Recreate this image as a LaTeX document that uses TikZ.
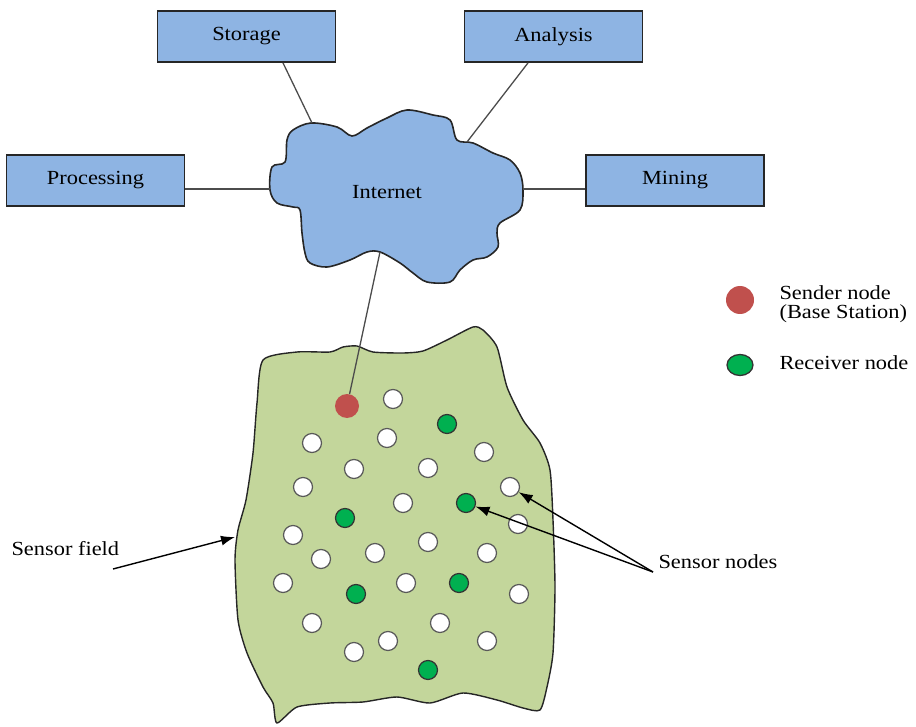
\documentclass[tikz,border=0pt]{standalone}
\usepackage{fontspec}
\setmainfont[FakeStretch=1.12]{Liberation Serif}
\usetikzlibrary{arrows.meta,shapes.geometric}
\definecolor{boxblue}{HTML}{8EB4E3}
\definecolor{fieldgreen}{HTML}{C3D69B}
\definecolor{rxgreen}{HTML}{00B050}
\definecolor{txred}{HTML}{C0504D}
\begin{document}
\begin{tikzpicture}[x=1pt,y=-1pt,
  lbl/.style={font=\fontsize{20}{18.5}\selectfont, text=black},
  block/.style={lbl, draw=black!85, line width=1.8pt, fill=boxblue,
    minimum width=178pt, minimum height=51pt, inner sep=0pt},
  link/.style={draw=black!70, line width=1.3pt},
  pointer/.style={draw=black, line width=1.4pt, -{Latex[length=14pt,width=10pt]}},
  dot/.style={circle, line width=1.2pt, minimum size=19pt, inner sep=0pt},
  sensor/.style={dot, draw=black!65, fill=white},
  rx/.style={dot, draw=black!80, fill=rxgreen},
  tx/.style={circle, fill=txred, minimum size=24pt, inner sep=0pt},
]
\useasboundingbox (0,0) rectangle (916,727);

% service boxes
\node[block] (storage)    at (246.5,36.5) {Storage};
\node[block] (analysis)   at (553.5,36.5) {Analysis};
\node[block] (processing) at (95.5,180.5) {Processing};
\node[block] (mining)     at (675,180.5)  {Mining};

% internet cloud
\draw[draw=black!85, line width=1.6pt, fill=boxblue]
  plot[smooth cycle, tension=0.55] coordinates {
   (311,123) (337,127) (352,136) (367,128) (387,118) (407,110) (433,115)
   (450,120) (457,140) (473,143) (493,153) (510,160) (520,173) (523,190)
   (520,210) (500,223) (497,233) (498,247) (487,257) (473,260) (460,270)
   (450,282) (427,282) (413,273) (400,263) (380,252) (367,252) (350,260)
   (327,267) (310,263) (305,253) (302,233) (300,210) (293,207) (277,203)
   (270,190) (272,167) (285,162) (287,140) (293,130)};
\node[lbl] (internet) at (387,192) {Internet};
\coordinate (c-storage)  at (312,123);
\coordinate (c-analysis) at (467,142);
\coordinate (c-proc)     at (270,189);
\coordinate (c-mining)   at (523,189);
\coordinate (c-field)    at (380,252);

\draw[link] ([xshift=36.5pt]storage.south) -- (c-storage);
\draw[link] ([xshift=-25.5pt]analysis.south) -- (c-analysis);
\draw[link] ([yshift=-8.5pt]processing.east) -- (c-proc);
\draw[link] ([yshift=-8.5pt]mining.west) -- (c-mining);

% sensor field
\draw[draw=black!85, line width=1.4pt, fill=fieldgreen]
  plot[smooth cycle, tension=0.4] coordinates {
   (263,360) (297,352) (330,352) (343,347) (357,346) (373,352) (403,353)
   (423,351) (447,340) (473,327) (483,330) (497,347) (507,387) (523,420)
   (540,443) (550,470) (553,520) (555,587) (553,653) (547,687) (540,710)
   (523,708) (497,700) (463,693) (430,703) (397,697) (363,702) (330,703)
   (297,707) (277,723) (273,703) (263,687) (247,653) (238,620) (235,560)
   (238,530) (246,500) (253,453) (257,403)};
\coordinate (f-left) at (235,537);

% base station
\node[tx] (sender) at (347,406) {};
\draw[link] (c-field) -- (sender);

% white sensor nodes
\node[sensor] (s1)  at (393,399) {};
\node[sensor] (s2)  at (312,443) {};
\node[sensor] (s3)  at (387,438) {};
\node[sensor] (s4)  at (484,452) {};
\node[sensor] (s5)  at (354,469) {};
\node[sensor] (s6)  at (428,468) {};
\node[sensor] (s7)  at (303,487) {};
\node[sensor] (s8)  at (510,487) {};
\node[sensor] (s9)  at (403,503) {};
\node[sensor] (s10) at (518,524) {};
\node[sensor] (s11) at (293,535) {};
\node[sensor] (s12) at (428,542) {};
\node[sensor] (s13) at (321,559) {};
\node[sensor] (s14) at (375,553) {};
\node[sensor] (s15) at (487,553) {};
\node[sensor] (s16) at (283,583) {};
\node[sensor] (s17) at (406,583) {};
\node[sensor] (s18) at (519,594) {};
\node[sensor] (s19) at (312,623) {};
\node[sensor] (s20) at (440,623) {};
\node[sensor] (s21) at (388,641) {};
\node[sensor] (s22) at (354,652) {};
\node[sensor] (s23) at (487,641) {};

% receiver nodes
\node[rx] (r1) at (447,424) {};
\node[rx] (r2) at (466,503) {};
\node[rx] (r3) at (345,518) {};
\node[rx] (r4) at (459,583) {};
\node[rx] (r5) at (356,594) {};
\node[rx] (r6) at (428,670) {};

% labels with pointers
\node[lbl, anchor=west] (fieldlabel) at (8,549) {Sensor field};
\coordinate (fl-start) at (113,569);
\draw[pointer] (fl-start) -- (f-left);

\node[lbl, anchor=west] (sensorlabel) at (655,562) {Sensor nodes};
\coordinate (sl-start) at (653,572);
\draw[pointer] (sl-start) -- (s8);
\draw[pointer] (sl-start) -- (r2);

% legend
\node[circle, fill=txred, minimum size=28pt, inner sep=0pt] (leg-tx) at (740,300) {};
\node[lbl, anchor=west, align=left] (leg-tx-text) at (776,304) {Sender node\\(Base Station)};
\node[ellipse, draw=black!80, line width=1.3pt, fill=rxgreen,
      minimum width=26pt, minimum height=21pt, inner sep=0pt] (leg-rx) at (740,365) {};
\node[lbl, anchor=west] (leg-rx-text) at (776,363) {Receiver node};
\end{tikzpicture}
\end{document}
